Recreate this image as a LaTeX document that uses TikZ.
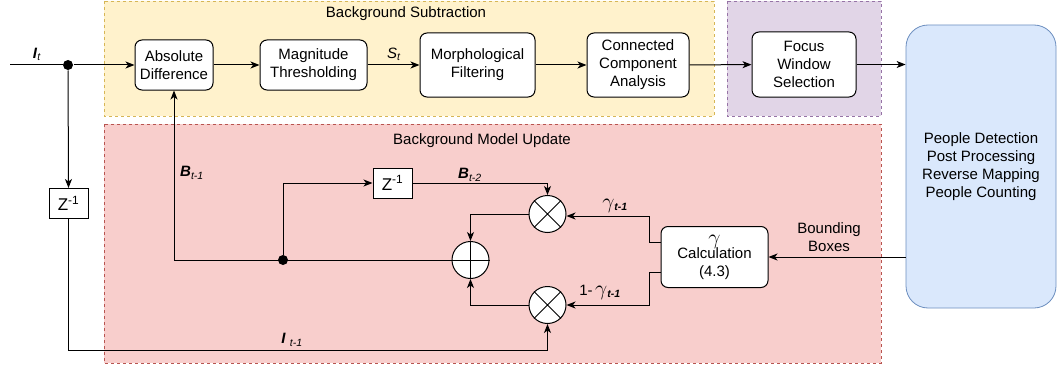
\documentclass[tikz,border=0pt]{standalone}
\usepackage{fontspec}
\setmainfont{Liberation Sans}
\usetikzlibrary{arrows.meta,calc}
\definecolor{ylwfill}{HTML}{FFF2CC}
\definecolor{ylwline}{HTML}{D6B656}
\definecolor{prpfill}{HTML}{E1D5E7}
\definecolor{prpline}{HTML}{9673A6}
\definecolor{redfill}{HTML}{F8CECC}
\definecolor{redline}{HTML}{B85450}
\definecolor{blufill}{HTML}{DAE8FC}
\definecolor{bluline}{HTML}{6C8EBF}
\newcommand{\bivar}[1]{\textbf{\textit{#1}}}
\newcommand{\gam}{\scalebox{1.5}{$\gamma$}}
\begin{document}
\begin{tikzpicture}[x=1pt,y=-1pt,
  font=\fontsize{15}{18}\selectfont,
  line width=1pt,
  region/.style={dashed, line width=0.7pt, dash pattern=on 3pt off 3pt},
  proc/.style={draw, fill=white, rounded corners=7pt, align=center, inner sep=0pt},
  delay/.style={draw, fill=white, minimum width=39pt, minimum height=30pt, inner sep=0pt,
                font=\fontsize{17}{20}\selectfont},
  op/.style={draw, fill=white, circle, minimum size=37pt, inner sep=0pt},
  junction/.style={circle, fill=black, minimum size=10pt, inner sep=0pt},
  arr/.style={-{Stealth[length=9pt,width=7pt,inset=2.5pt]}},
  lbl/.style={inner sep=0pt}]
\useasboundingbox (0,0) rectangle (1057,369);

% stage backgrounds
\filldraw[region, fill=ylwfill, draw=ylwline] (104,1) rectangle (714,116);
\filldraw[region, fill=prpfill, draw=prpline] (727,1) rectangle (881,116);
\filldraw[region, fill=redfill, draw=redline] (104,124) rectangle (881,363);
\node[lbl] (tbs) at (406,14) {Background Subtraction};
\node[lbl] (tbm) at (482,141) {Background Model Update};

% downstream block
\node[draw=bluline, fill=blufill, rounded corners=22pt, line width=0.8pt,
      minimum width=150pt, minimum height=283pt, align=center, inner sep=0pt]
  (pd) at (981,166.5) {People Detection\\Post Processing\\Reverse Mapping\\People Counting};

% processing chain
\node[proc, minimum width=78pt, minimum height=50pt] (ad) at (174,65) {Absolute\\Difference};
\node[proc, minimum width=107pt, minimum height=50pt] (mt) at (313.5,65) {Magnitude\\Thresholding};
\node[proc, minimum width=115pt, minimum height=64pt] (mf) at (477.5,65) {Morphological\\Filtering};
\node[proc, minimum width=102pt, minimum height=64pt] (cc) at (638,65) {Connected\\Component\\Analysis};
\node[proc, minimum width=104pt, minimum height=65pt] (fw) at (804,64.5) {Focus\\Window\\Selection};

% model update blocks
\node[delay] (z1) at (68.5,203.5) {Z\textsuperscript{-1}};
\node[delay] (z2) at (392.5,183) {Z\textsuperscript{-1}};
\node[op] (m1) at (547.5,214) {};
\node[op] (pl) at (470.5,260) {};
\node[op] (m2) at (547.5,305) {};
\draw (m1.north west) -- (m1.south east) (m1.north east) -- (m1.south west);
\draw (m2.north west) -- (m2.south east) (m2.north east) -- (m2.south west);
\draw (pl.north) -- (pl.south) (pl.west) -- (pl.east);
\node[proc, minimum width=107pt, minimum height=61pt] (gc) at (714.5,257)
  {\gam\\[-4pt]Calculation\\(4.3)};

% junctions
\coordinate (in) at (10,65);
\node[junction] (j1) at (68,65) {};
\node[junction] (j2) at (283,260) {};
\coordinate (it1) at (547.5,350);

% signal flow
\draw (in) -- (j1);
\draw[arr] (j1) -- (ad.west);
\draw[arr] (j1) -- (z1.north);
\draw[arr] (z1.south) |- (it1) -- (m2.south);
\draw[arr] (ad) -- (mt);
\draw[arr] (mt) -- (mf);
\draw[arr] (mf) -- (cc);
\draw[arr] (cc) -- (fw);
\draw[arr] (fw.east) -- (fw.east -| pd.west);
\draw[arr] (pl.west) -| (ad.south);
\draw[arr] (j2) |- (z2.west);
\draw[arr] (z2.east) -| (m1.north);
\draw[arr] (m1.west) -| (pl.north);
\draw[arr] (m2.west) -| (pl.south);
\draw[arr] ([yshift=15pt]gc.west) -- ++(-11,0) |- ([yshift=-2pt]m1.east);
\draw[arr] ([yshift=-15pt]gc.west) -- ++(-11,0) |- (m2.east);
\draw[arr] (pd.west |- gc.east) -- (gc.east);

% signal labels
\node[lbl] (lit) at (37,54) {\bivar{I}\textsubscript{\textit{t}}};
\node[lbl] (lst) at (394,54) {\textit{S}\textsubscript{\textit{t}}};
\node[lbl] (lbt1) at (192,173) {\bivar{B}\textsubscript{\textit{t-1}}};
\node[lbl] (lbt2) at (470,175) {\bivar{B}\textsubscript{\textit{t-2}}};
\node[lbl] (lit1) at (292,340) {\bivar{I} \textsubscript{\textit{t-1}}};
\node[lbl] (lg1) at (615,206) {\gam\textsubscript{\bivar{t-1}}};
\node[lbl] (lg2) at (600,292) {1-\,\gam\textsubscript{\bivar{t-1}}};
\node[lbl, align=center] (lbb) at (829,237) {Bounding\\Boxes};
\end{tikzpicture}
\end{document}
